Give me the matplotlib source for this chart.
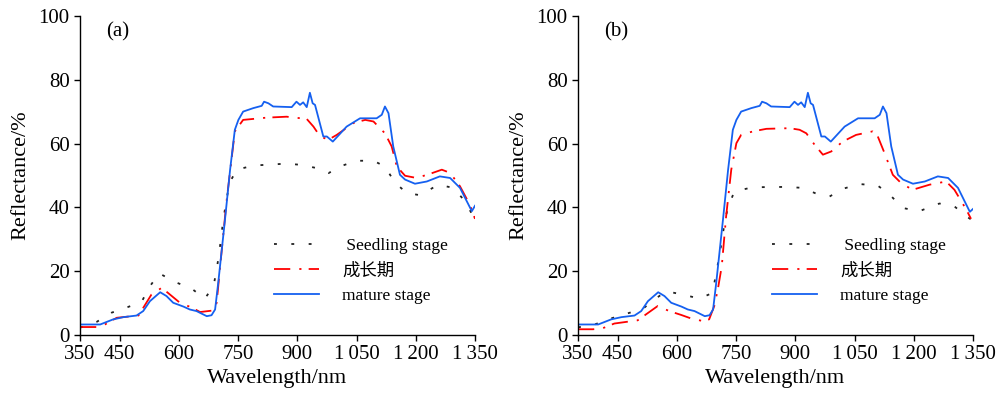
import matplotlib
matplotlib.use("Agg")
import matplotlib.pyplot as plt

plt.rcParams["font.family"] = ["Liberation Serif", "Noto Sans CJK SC"]

# wavelength (nm) / reflectance (%)
MATURE_WL = [350, 401, 434, 460, 493, 510, 527, 553, 569, 586, 612, 628, 645, 671,
             683, 692, 700, 709, 717, 730, 742, 751, 763, 789, 810, 816, 827, 839,
             886, 898, 907, 915, 924, 932, 939, 945, 966, 975, 990, 1025, 1059, 1101,
             1114, 1122, 1131, 1143, 1160, 1173, 1198, 1228, 1261, 1287, 1312, 1342, 1350]
MATURE_A = [3.3, 3.3, 4.9, 5.6, 6.1, 7.5, 10.6, 13.4, 12.2, 10.1, 8.9, 8.0, 7.5, 5.9,
            6.2, 8.0, 16.4, 26.8, 36.1, 51.8, 64.3, 67.4, 70.0, 71.1, 71.8, 73.1, 72.6, 71.6,
            71.4, 73.1, 72.1, 72.9, 71.4, 75.9, 72.6, 72.1, 62.2, 62.2, 60.6, 65.3, 67.9, 67.9,
            69.0, 71.6, 69.5, 59.1, 50.2, 48.7, 47.4, 48.1, 49.7, 49.2, 46.1, 38.8, 40.5]
MATURE_B = MATURE_A[:-2] + [38.6, 39.5]

GROW_A_WL = [350, 395, 413, 443, 498, 531, 557, 603, 633, 654, 688, 696, 704, 721,
             742, 763, 822, 873, 924, 941, 958, 979, 1000, 1042, 1072, 1093, 1122,
             1139, 1152, 1173, 1202, 1236, 1266, 1287, 1312, 1337, 1350]
GROW_A = [2.5, 2.5, 3.3, 5.4, 6.1, 12.7, 14.8, 10.1, 8.6, 7.2, 7.7, 10.1, 20.5, 41.9,
          63.8, 67.4, 68.1, 68.4, 67.7, 65.3, 62.2, 61.2, 62.7, 66.4, 67.4, 66.9, 63.2,
          59.1, 52.8, 49.9, 49.2, 50.5, 51.8, 50.8, 46.6, 40.8, 36.4]

SEED_A_WL = [350, 392, 430, 472, 506, 527, 551, 591, 633, 666, 688, 696, 703, 713,
             728, 747, 789, 873, 911, 949, 979, 1008, 1050, 1093, 1122, 1147, 1177,
             1211, 1257, 1295, 1325, 1350]
SEED_A = [2.3, 4.1, 7.0, 8.8, 10.4, 15.3, 19.3, 16.6, 14.5, 11.4, 15.3, 20.5, 26.3, 36.4,
          47.6, 51.8, 53.1, 53.7, 53.3, 52.3, 50.7, 52.8, 54.6, 54.6, 52.8, 47.8, 44.5,
          43.8, 47.1, 46.1, 41.9, 36.1]

GROW_B_WL = [350, 388, 412, 442, 501, 552, 581, 611, 636, 665, 682, 695, 704, 714,
             725, 738, 751, 763, 793, 827, 886, 911, 928, 949, 970, 991, 1020, 1054,
             1096, 1109, 1126, 1147, 1168, 1197, 1240, 1282, 1303, 1333, 1345]
GROW_B = [1.8, 1.8, 2.1, 3.6, 4.6, 9.1, 7.5, 6.3, 5.2, 4.4, 4.9, 9.1, 14.3, 21.6,
          37.2, 51.8, 60.1, 62.7, 63.8, 64.6, 64.8, 64.3, 63.2, 59.6, 56.5, 57.5, 60.6, 62.7,
          63.8, 62.2, 57.0, 50.2, 47.6, 45.5, 47.1, 48.1, 45.5, 39.3, 36.4]

SEED_B_WL = [350, 392, 434, 476, 514, 543, 573, 615, 657, 691, 699, 708, 721, 729,
             746, 793, 877, 919, 953, 987, 1020, 1063, 1109, 1139, 1172, 1214, 1265,
             1303, 1333, 1350]
SEED_B = [2.4, 3.3, 5.2, 6.8, 8.2, 11.1, 13.7, 12.7, 11.4, 13.2, 19.0, 24.7, 35.1, 39.8,
          45.0, 46.3, 46.4, 46.1, 44.3, 43.4, 45.8, 47.3, 46.8, 44.0, 39.8, 38.8, 41.2,
          40.3, 37.2, 35.8]

X_TICKS = [350, 450, 600, 750, 900, 1050, 1200, 1350]
X_TICK_LABELS = ["350", "450", "600", "750", "900", "1\u2009050", "1\u2009200", "1\u2009350"]
Y_TICKS = [0, 20, 40, 60, 80, 100]
LABELS = [" Seedling stage", "成长期", "mature stage"]

fig = plt.figure(figsize=(10, 3.96), dpi=100)
panels = [
    (0.080, "(a)", SEED_A_WL, SEED_A, GROW_A_WL, GROW_A, MATURE_A),
    (0.578, "(b)", SEED_B_WL, SEED_B, GROW_B_WL, GROW_B, MATURE_B),
]

for left, tag, s_wl, s_val, g_wl, g_val, m_val in panels:
    ax = fig.add_axes([left, 0.154, 0.395, 0.806])
    ax.plot(s_wl, s_val, color="#222222", lw=1.3, linestyle=(0, (1.6, 8)), label=LABELS[0])
    ax.plot(g_wl, g_val, color="red", lw=1.3, linestyle=(0, (9, 5, 1.2, 4)), label=LABELS[1])
    ax.plot(MATURE_WL, m_val, color="#1560f0", lw=1.3, label=LABELS[2])

    ax.set_xlim(350, 1350)
    ax.set_ylim(0, 100)
    ax.set_xticks(X_TICKS)
    ax.set_xticklabels(X_TICK_LABELS, family=["Liberation Serif", "DejaVu Serif"])
    ax.set_yticks(Y_TICKS)
    ax.tick_params(labelsize=15, direction="out", length=4, width=1)
    for side in ("top", "right"):
        ax.spines[side].set_visible(False)
    for side in ("left", "bottom"):
        ax.spines[side].set_linewidth(1)

    ax.set_xlabel("Wavelength/nm", fontsize=16, labelpad=3)
    ax.set_ylabel("Reflectance/%", fontsize=16, labelpad=6)
    ax.text(0.065, 0.95, tag, transform=ax.transAxes, fontsize=15, va="center", ha="left")

    ax.legend(loc="center left", bbox_to_anchor=(0.47, 0.2), frameon=False,
              fontsize=12.5, handlelength=2.6, handletextpad=1.3, labelspacing=0.5,
              borderpad=0)

fig.savefig("out.png", dpi=100)
